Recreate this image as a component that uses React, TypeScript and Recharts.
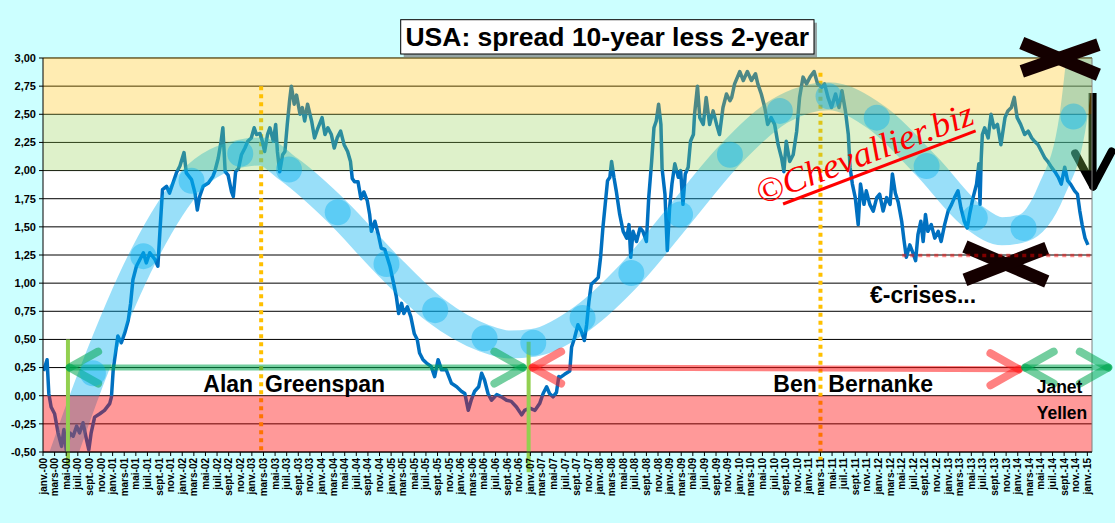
import React from 'react';
import { LineChart, Line, XAxis, YAxis, CartesianGrid, ReferenceArea, ReferenceLine } from 'recharts';

type P = [number, number];

// month index (0 = janv.-00) and 10y-2y spread value (%)
const spread2000_2002: P[] = [
  [0.1, 0.22], [0.7, 0.32], [1.0, 0.02], [1.4, -0.1], [2.0, -0.16], [2.6, -0.33], [3.2, -0.45], [3.6, -0.3], [4.0, -0.48],
  [4.6, -0.33], [5.2, -0.36], [5.8, -0.27], [6.3, -0.33], [6.9, -0.24], [7.5, -0.39], [7.9, -0.48], [8.3, -0.33], [8.9, -0.19],
  [9.8, -0.16], [10.6, -0.13], [11.5, -0.07], [11.8, -0.01], [12.1, 0.23], [12.5, 0.38], [12.9, 0.53], [13.5, 0.47], [14.1, 0.56],
  [14.7, 0.67], [15.1, 0.82], [15.5, 1.03], [16.1, 1.15], [16.7, 1.21], [17.3, 1.27], [17.8, 1.18], [18.4, 1.27], [19.3, 1.21],
  [19.8, 1.15], [20.2, 1.5], [20.6, 1.83], [21.3, 1.86], [21.8, 1.8], [22.4, 1.89], [23.0, 1.98], [23.6, 2.04], [24.3, 2.16],
  [24.7, 1.98], [25.6, 1.92], [26.2, 1.8], [26.6, 1.65], [27.0, 1.77], [27.6, 1.86], [28.5, 1.89], [29.3, 1.95], [29.6, 1.99],
  [30.2, 2.11], [30.7, 2.26], [31.0, 2.38], [31.4, 1.99], [31.9, 1.96], [32.5, 1.81], [32.8, 1.77], [33.2, 1.99], [33.7, 2.02],
  [34.2, 2.14], [34.8, 2.2], [35.3, 2.26], [35.9, 2.29],
];
const spread2003_2005: P[] = [
  [36.4, 2.38], [36.8, 2.32], [37.4, 2.33], [37.8, 2.26], [38.2, 2.17], [38.7, 2.32], [39.1, 2.38], [39.7, 2.26], [40.1, 2.41],
  [40.4, 2.17], [40.8, 1.99], [41.3, 2.14], [41.7, 2.17], [42.1, 2.41], [42.5, 2.62], [42.8, 2.75], [43.3, 2.59], [43.7, 2.67],
  [44.3, 2.5], [44.7, 2.56], [45.1, 2.44], [45.6, 2.59], [46.3, 2.44], [46.8, 2.29], [47.4, 2.38], [48.1, 2.47], [48.6, 2.32],
  [49.1, 2.38], [49.7, 2.32], [50.2, 2.2], [50.7, 2.29], [51.3, 2.35], [51.9, 2.23], [52.5, 2.17], [53.0, 2.08], [53.3, 1.93],
  [53.7, 1.9], [54.3, 1.9], [54.8, 1.75], [55.3, 1.81], [55.9, 1.73], [56.3, 1.61], [56.6, 1.46], [57.2, 1.55], [57.8, 1.43],
  [58.3, 1.31], [58.9, 1.3], [59.8, 1.15], [60.3, 1.03], [60.9, 0.88], [61.3, 0.73], [61.8, 0.82], [62.2, 0.73], [62.8, 0.79],
  [63.4, 0.7], [64.0, 0.55], [64.5, 0.5], [64.9, 0.38], [65.5, 0.32], [66.1, 0.29], [66.9, 0.26], [67.5, 0.17], [68.1, 0.32],
  [68.7, 0.23], [69.5, 0.23], [70.4, 0.11], [71.3, 0.08],
];
const spread2006_2008: P[] = [
  [72.1, 0.04], [72.7, 0.02], [73.3, -0.13], [73.8, -0.04], [74.4, 0.04], [75.1, 0.08], [75.6, 0.2], [76.1, 0.14], [76.7, 0.02],
  [77.3, -0.04], [78.2, 0.01], [79.0, -0.01], [79.9, -0.04], [80.7, -0.05], [81.6, -0.1], [82.5, -0.17], [83.0, -0.13],
  [83.9, -0.11], [84.8, -0.13], [85.6, -0.07], [86.2, 0.02], [86.8, 0.08], [87.3, 0.02], [87.9, -0.01], [88.5, 0.03],
  [88.9, 0.17], [89.1, 0.16], [89.9, 0.19], [90.8, 0.22], [91.1, 0.43], [91.6, 0.51], [92.2, 0.63], [92.8, 0.57], [93.3, 0.49],
  [93.7, 0.63], [94.1, 0.84], [94.5, 0.99], [95.1, 1.02], [95.7, 1.05], [96.1, 1.23], [96.5, 1.49], [96.9, 1.7], [97.3, 1.91],
  [97.7, 1.94], [98.0, 2.08], [98.4, 1.94], [98.8, 1.82], [99.4, 1.61], [100.0, 1.46], [100.6, 1.4], [101.0, 1.52], [101.3, 1.23],
  [101.7, 1.46], [102.3, 1.37], [102.9, 1.49], [103.4, 1.46], [104.0, 1.37], [104.4, 1.76], [104.9, 2.08], [105.3, 2.38],
  [105.7, 2.44], [106.1, 2.59], [106.5, 2.41], [106.7, 2.02], [107.2, 1.79], [107.6, 1.29],
];
const spread2009_2011: P[] = [
  [108.0, 1.67], [108.4, 1.88], [108.9, 2.06], [109.5, 1.94], [109.9, 2.0], [110.3, 1.7], [110.7, 1.97], [111.2, 2.03],
  [111.6, 2.26], [112.1, 2.32], [112.3, 2.5], [112.8, 2.75], [113.2, 2.47], [113.8, 2.41], [114.3, 2.65], [114.9, 2.41],
  [115.5, 2.53], [116.1, 2.41], [116.6, 2.32], [117.2, 2.56], [117.8, 2.68], [118.4, 2.62], [118.7, 2.65], [119.2, 2.77],
  [120.1, 2.88], [120.7, 2.8], [121.4, 2.88], [122.1, 2.8], [122.8, 2.86], [123.2, 2.77], [123.8, 2.68], [124.4, 2.56],
  [124.9, 2.41], [125.5, 2.47], [126.1, 2.41], [126.7, 2.23], [127.3, 2.11], [127.7, 1.99], [128.1, 2.26], [128.7, 2.08],
  [129.3, 2.14], [129.9, 2.35], [130.4, 2.65], [131.0, 2.83], [131.6, 2.77], [132.2, 2.83], [132.9, 2.88], [133.5, 2.77],
  [134.2, 2.74], [134.7, 2.77], [135.3, 2.65], [135.9, 2.56], [136.6, 2.68], [137.2, 2.56], [137.7, 2.71], [138.3, 2.53],
  [138.8, 2.32], [139.1, 2.03], [139.5, 1.88], [140.0, 1.76], [140.5, 1.52], [140.9, 1.88], [141.5, 1.7], [141.9, 1.82],
  [142.5, 1.7], [143.1, 1.64], [143.7, 1.76],
];
const spread2012_2014: P[] = [
  [144.2, 1.79], [144.8, 1.64], [145.4, 1.76], [146.0, 1.7], [146.4, 1.97], [146.9, 1.8], [147.4, 1.72], [148.0, 1.55],
  [148.4, 1.38], [148.8, 1.23], [149.4, 1.34], [150.0, 1.26], [150.4, 1.2], [150.8, 1.43], [151.3, 1.55], [151.7, 1.37],
  [152.1, 1.61], [152.5, 1.46], [153.1, 1.52], [153.7, 1.4], [154.3, 1.46], [154.8, 1.37], [155.4, 1.52], [156.0, 1.64],
  [156.6, 1.7], [157.1, 1.76], [157.7, 1.82], [158.2, 1.67], [158.8, 1.55], [159.3, 1.49], [159.7, 1.61], [160.3, 1.76],
  [160.9, 1.88], [161.3, 2.06], [161.5, 1.7], [161.7, 2.1], [161.9, 2.32], [162.3, 2.38], [162.9, 2.29], [163.4, 2.5],
  [163.9, 2.38], [164.5, 2.41], [165.1, 2.23], [165.8, 2.47], [166.3, 2.53], [166.9, 2.56], [167.4, 2.65], [167.9, 2.47],
  [168.5, 2.41], [169.2, 2.32], [169.8, 2.35], [170.4, 2.29], [170.9, 2.26], [171.5, 2.23], [172.1, 2.17], [172.7, 2.11],
  [173.2, 2.08], [173.8, 2.03], [174.4, 1.99], [175.0, 1.94], [175.5, 1.88], [176.1, 2.03], [176.6, 1.91], [177.1, 1.88],
  [177.8, 1.82], [178.3, 1.79], [178.7, 1.64], [179.1, 1.52], [179.6, 1.4], [180.1, 1.34],
];

// hand-drawn cycle band: [month, value, has circle]
const trendPoints: [number, number, boolean][] = [
  [0, -1.05, false], [8.6, 0.2, true], [17.3, 1.24, true], [25.6, 1.91, true], [34.0, 2.15, true], [37.5, 2.17, false],
  [42.4, 2.01, true], [50.8, 1.63, true], [59.2, 1.17, true], [67.6, 0.76, true], [76.1, 0.51, true], [80.3, 0.455, false],
  [84.5, 0.47, true], [93.0, 0.69, true], [101.4, 1.09, true], [109.8, 1.61, true], [118.4, 2.14, true], [127.0, 2.53, true],
  [135.4, 2.66, true], [143.7, 2.47, true], [152.3, 2.04, true], [160.6, 1.58, true], [165.3, 1.46, false], [169.0, 1.49, true],
  [173.8, 1.82, false], [177.6, 2.48, true], [179.0, 3.1, false],
];

const monthLabels = ['janv.', 'mars', 'mai', 'juil.', 'sept.', 'nov.'];
const yearLabels = ['00', '01', '02', '03', '04', '05', '06', '07', '08', '09', '10', '11', '12', '13', '14', '15'];
const yTicks = [-0.5, -0.25, 0, 0.25, 0.5, 0.75, 1, 1.25, 1.5, 1.75, 2, 2.25, 2.5, 2.75, 3];

const xTicks: number[] = [];
for (let y = 0; y < yearLabels.length; y++) {
  for (let k = 0; k < monthLabels.length; k++) {
    const m = y * 12 + k * 2;
    if (m <= 180) xTicks.push(m);
  }
}
const fmtMonth = (m: number) => `${monthLabels[(m % 12) / 2]}-${yearLabels[Math.floor(m / 12)]}`;

const spreadData = [...spread2000_2002, ...spread2003_2005, ...spread2006_2008, ...spread2009_2011, ...spread2012_2014].map(
  ([m, v]) => ({ m, v })
);
const trendData = trendPoints.map(([m, v, d]) => ({ m, v, dot: d }));

const FONT = '"Liberation Sans", Arial, Helvetica, sans-serif';

const XTick = (props: any) => {
  const { x, y, payload } = props;
  return (
    <text
      x={0}
      y={0}
      transform={`translate(${x},${y}) rotate(-90)`}
      textAnchor="end"
      dominantBaseline="central"
      fontSize={10}
      fontWeight="bold"
      fontFamily={FONT}
      fill="#000"
    >
      {fmtMonth(payload.value)}
    </text>
  );
};

const TrendDot = (props: any) => {
  const { cx, cy, payload, index } = props;
  if (!payload || !payload.dot || cx == null || cy == null) return <g key={`td-${index}`} />;
  return <circle key={`td-${index}`} cx={cx} cy={cy} r={13} fill="#00b0f0" fillOpacity={0.4} />;
};

type Seg = [number, number, number, number];

const seg = (s: Seg, key: string, stroke: string, width: number, z: number, extra: any = {}) => (
  <ReferenceLine
    key={key}
    segment={[{ x: s[0], y: s[1] }, { x: s[2], y: s[3] }]}
    stroke={stroke}
    strokeWidth={width}
    ifOverflow="visible"
    zIndex={z}
    {...extra}
  />
);

const arrow = (x1: number, y1: number, x2: number, y2: number, key: string, color: string) => {
  const ax = 4.9;
  const ay = 0.142;
  const parts: Seg[] = [
    [x1, y1, x2, y2],
    [x1, y1, x1 + ax, y1 + ay],
    [x1, y1, x1 + ax, y1 - ay],
    [x2, y2, x2 - ax, y2 + ay],
    [x2, y2, x2 - ax, y2 - ay],
  ];
  return parts.map((p, i) =>
    seg(p, `${key}-${i}`, color, i === 0 ? 6 : 8, 440, { strokeOpacity: 0.55, strokeLinecap: 'round' })
  );
};

export default function App() {
  return (
    <div style={{ position: 'absolute', left: 0, top: 0, width: 1115, height: 523, background: '#ccffff', overflow: 'hidden' }}>
      <LineChart width={1115} height={523} margin={{ top: 58, right: 23, bottom: 0, left: 3 }}>
        <CartesianGrid vertical={false} stroke="#000" strokeOpacity={1} fill="#ffffff" fillOpacity={1} zIndex={-100} />
        <XAxis
          type="number"
          dataKey="m"
          domain={[0, 180.8]}
          allowDataOverflow
          ticks={xTicks}
          interval={0}
          tick={<XTick />}
          tickSize={4}
          tickMargin={2}
          height={71}
          stroke="#000"
        />
        <YAxis
          type="number"
          domain={[-0.5, 3]}
          allowDataOverflow
          ticks={yTicks}
          interval={0}
          width={40}
          tickSize={4}
          tickMargin={3}
          stroke="#000"
          tickFormatter={(v: number) => v.toFixed(2).replace('.', ',')}
          tick={{ fontSize: 11, fontWeight: 'bold', fill: '#000', fontFamily: FONT }}
        />

        {seg([37.6, 2.75, 37.6, -0.5], 'dot1', '#ffc000', 4, 390, { strokeDasharray: '4 4' })}
        {seg([134.0, 2.87, 134.0, -0.58], 'dot2', '#ffc000', 4, 390, { strokeDasharray: '4 4' })}

        {seg([180.9, 2.69, 180.9, 1.87], 'down0', '#000', 8, 395)}
        {seg([177.9, 2.153, 181.0, 1.859], 'down1', '#000', 8, 395, { strokeLinecap: 'round' })}
        {seg([181.0, 1.859, 184.2, 2.17], 'down2', '#000', 8, 395, { strokeLinecap: 'round' })}

        <Line
          data={spreadData}
          dataKey="v"
          type="linear"
          stroke="#0070c0"
          strokeWidth={3.5}
          strokeLinejoin="round"
          dot={false}
          activeDot={false}
          isAnimationActive={false}
          zIndex={400}
        />
        <Line
          data={trendData}
          dataKey="v"
          type="monotone"
          stroke="#00b0f0"
          strokeOpacity={0.4}
          strokeWidth={28}
          dot={TrendDot}
          activeDot={false}
          isAnimationActive={false}
          zIndex={410}
        />

        <ReferenceArea y1={2.5} y2={3} fill="#ffc000" fillOpacity={0.3} stroke="none" ifOverflow="hidden" zIndex={420} />
        <ReferenceArea y1={2} y2={2.5} fill="#92d050" fillOpacity={0.3} stroke="none" ifOverflow="hidden" zIndex={420} />
        <ReferenceArea y1={-0.5} y2={0} fill="#ff0000" fillOpacity={0.4} stroke="none" ifOverflow="hidden" zIndex={420} />
        <ReferenceLine x={180.8} stroke="#808080" strokeWidth={1} zIndex={425} />
        <ReferenceLine y={3} stroke="#8c7a3c" strokeWidth={1} zIndex={425} />

        {seg([4.3, 0.5, 4.3, -0.615], 'gv1', '#92d050', 4, 430)}
        {seg([83.7, 0.48, 83.7, -0.68], 'gv2', '#92d050', 4, 430)}

        {arrow(4.6, 0.25, 82.7, 0.25, 'ga1', '#00a650')}
        {arrow(84.4, 0.25, 168.2, 0.235, 'ra', '#ff1a1a')}
        {arrow(169.3, 0.25, 183.6, 0.25, 'ga2', '#00a650')}

        {seg([168.7, 3.133, 181.9, 2.852], 'xt1', '#140000', 13, 450)}
        {seg([168.7, 2.881, 181.9, 3.118], 'xt2', '#140000', 13, 450)}
        {seg([158.9, 1.325, 173.0, 1.014], 'xb1', '#140000', 13, 450)}
        {seg([158.9, 1.029, 173.0, 1.311], 'xb2', '#140000', 13, 450)}

        {seg([148.1, 1.245, 180.8, 1.245], 'rdot', '#ff0000', 3.5, 460, { strokeDasharray: '4 4', strokeOpacity: 0.45 })}
      </LineChart>

      <svg width={1115} height={523} style={{ position: 'absolute', left: 0, top: 0, pointerEvents: 'none' }}>
        <rect x={403.7} y={22.7} width={413.3} height={34.3} fill="#7f7f7f" fillOpacity={0.7} />
        <rect x={400.7} y={19.7} width={413.3} height={34.3} fill="#ffffff" stroke="#000" strokeWidth={1} />
        <text x={607.3} y={45.5} textAnchor="middle" fontFamily={FONT} fontWeight="bold" fontSize={26.5} fill="#000">
          USA: spread 10-year less 2-year
        </text>

        <g fontFamily={FONT} fontWeight="bold" fill="#000">
          <text x={203.3} y={391.7} fontSize={23}>Alan</text>
          <text x={265} y={391.7} fontSize={23}>Greenspan</text>
          <text x={773.3} y={391.7} fontSize={23}>Ben</text>
          <text x={828.3} y={391.7} fontSize={23}>Bernanke</text>
          <text x={870} y={303} fontSize={23}>€-crises...</text>
          <text x={1036.7} y={392.7} fontSize={17.5}>Janet</text>
          <text x={1036.7} y={419} fontSize={17.5}>Yellen</text>
        </g>

        <g transform="translate(879,166.5) rotate(-20.8)">
          <text
            x={-124}
            y={-6}
            fontFamily='"Liberation Serif", "DejaVu Serif", serif'
            fontStyle="italic"
            fontSize={35}
            fill="#ff0000"
            textLength={230}
            lengthAdjust="spacingAndGlyphs"
          >
            ©Chevallier.biz
          </text>
          <line x1={-103} y1={1} x2={103} y2={1} stroke="#ff0000" strokeWidth={3} />
        </g>
      </svg>
    </div>
  );
}
